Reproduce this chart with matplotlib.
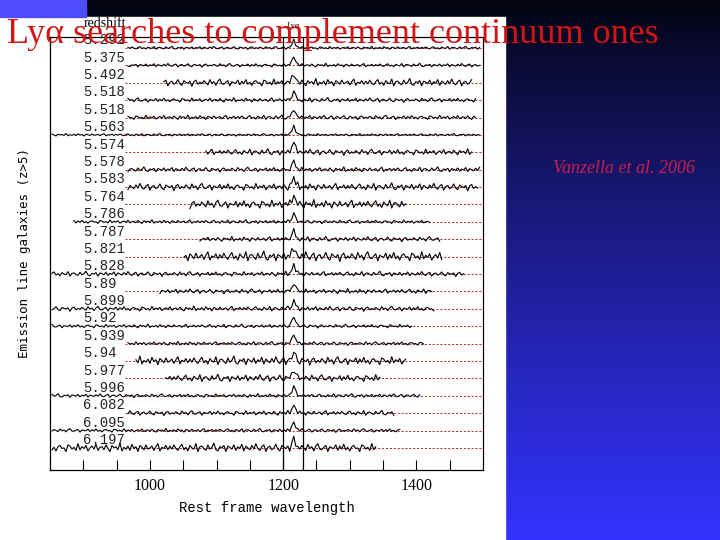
import numpy as np
import matplotlib
matplotlib.use("Agg")
from matplotlib import pyplot as plt
from matplotlib.patches import Rectangle

# redshift of each emission line galaxy (top to bottom)
z_labels = ["5.292", "5.375", "5.492", "5.518", "5.518", "5.563", "5.574", "5.578",
            "5.583", "5.764", "5.786", "5.787", "5.821", "5.828", "5.89", "5.899",
            "5.92", "5.939", "5.94", "5.977", "5.996", "6.082", "6.095", "6.197"]
# wavelength coverage of each spectrum (rest frame)
spec_start = [965, 965, 1019, 965, 965, 852, 1082, 965, 965, 1060, 886, 1075,
              1050, 852, 1015, 852, 852, 965, 977, 1022, 852, 965, 852, 852]
spec_end = [1497, 1497, 1484, 1490, 1490, 1497, 1483, 1497, 1494, 1385, 1420, 1435,
            1440, 1472, 1423, 1427, 1393, 1412, 1385, 1345, 1405, 1367, 1375, 1340]
noise_amp = [0.012, 0.015, 0.03, 0.018, 0.018, 0.01, 0.025, 0.02, 0.03, 0.035, 0.015, 0.02,
             0.04, 0.02, 0.02, 0.02, 0.015, 0.015, 0.035, 0.03, 0.015, 0.02, 0.015, 0.035]
peak_height = [0.45, 0.55, 0.5, 0.5, 0.5, 0.55, 0.6, 0.5, 0.55, 0.5, 0.5, 0.5,
               0.5, 0.55, 0.5, 0.5, 0.6, 0.55, 0.5, 0.55, 0.55, 0.5, 0.5, 0.5]
peak_shape = [0.1, 0.45, 1.0, 0.4, 0.1]   # around Lya 1216
# hand typed residual texture of the sky-subtracted spectra
noise = [3, -2, 5, -1, -4, 2, 6, -3, 1, -5, 4, 0, -2, 7, -6, 2, 3, -1, -4, 5, -2, 1, 8, -3,
         -5, 2, 0, 4, -6, 3, 1, -2, 5, -4, 2, -1, 6, -5, 3, 0, -3, 4, -2, 7, -1, -4, 2, 5,
         -6, 1, 3, -3, 0, 6, -2, -5, 4, 1, -1, 3, -7, 2, 5, -3, 1, -2, 4, 0, -4, 6, -1, 2,
         -5, 3, 7, -2, -3, 1, 4, -6, 2, 0, -1, 5, -4, 3, -2, 6, -3, 1, -5, 2, 4, -1, 0, -6,
         5, 3, -2, 1, -4, 7, -3, 2, -1, 4, -5, 0, 3, -2, 6, -4, 1, 2, -3, 5, -1, -6, 4, 0,
         2, -3, 8, -5, 1, -2, 3, -4, 6, -1, 2, -6, 4, 1, -3, 5, -2, 0, 3, -4, 2, 7, -5, 1,
         -1, 4, -3]
xticks_major = [1000, 1200, 1400]
xticks_minor = [900, 950, 1050, 1100, 1150, 1250, 1300, 1350, 1450]
lya_window = [1200, 1230]

W, H = 720, 540
fig = plt.figure(figsize=(7.2, 5.4), dpi=100)

# slide background: dark navy to blue gradient
bg = fig.add_axes([0, 0, 1, 1], zorder=-10)
t = np.linspace(0, 1, 256)[:, None] ** 0.85
top = np.array([3, 3, 14]) / 255
bot = np.array([51, 51, 255]) / 255
grad = top[None, None, :] * (1 - t[:, :, None]) + bot[None, None, :] * t[:, :, None]
bg.imshow(grad, aspect="auto", extent=[0, 1, 0, 1])
bg.add_patch(Rectangle((0, 0), 505 / W, 1 - 16.7 / H, color="white"))
bg.add_patch(Rectangle((0, 1 - 16.7 / H), 86 / W, 16.7 / H, color="#4d4dff"))
bg.set_xlim(0, 1)
bg.set_ylim(0, 1)
bg.axis("off")

ax = fig.add_axes([50 / W, 1 - 470 / H, 433 / W, 433 / H])
ax.set_facecolor("white")
nrow = len(z_labels)
for i in range(nrow):
    k0 = int(np.ceil((spec_start[i] - 1216) / 3))
    k1 = int(np.floor((spec_end[i] - 1216) / 3))
    k = np.arange(k0, k1 + 1)
    wl = 1216 + 3.0 * k
    idx = (i * 23 + np.arange(len(k))) % len(noise)
    flux = np.array(noise)[idx] * noise_amp[i]
    for j, p in enumerate(peak_shape):
        flux[k == j - 2] += p * peak_height[i]
    ax.plot([962, 1500], [i, i], color="#b02020", lw=0.7, ls=(0, (2, 2)))
    ax.plot(wl, i - flux, color="black", lw=0.8)
    ax.text(900, i - 0.04, z_labels[i], family="Liberation Mono", fontsize=10,
            ha="left", va="bottom", color="#222222")

for x in lya_window:
    ax.axvline(x, color="black", lw=0.9)

ax.set_xlim(850, 1500)
ax.set_ylim(24.27, -0.63)
ax.set_xticks(xticks_major)
ax.set_xticks(xticks_minor, minor=True)
ax.set_xticklabels([str(v) for v in xticks_major], family="Liberation Serif", fontsize=11.5)
ax.tick_params(axis="x", which="both", direction="in", length=7, width=0.8, pad=6)
ax.set_yticks([])
for s in ax.spines.values():
    s.set_linewidth(0.9)
ax.set_xlabel("Rest frame wavelength", family="Liberation Mono", fontsize=10, labelpad=5)
ax.set_ylabel("Emission line galaxies (z>5)", family="DejaVu Sans Mono", fontsize=9,
              labelpad=14)
ax.text(900, -1.05, "redshift", family="Liberation Serif", fontsize=10, va="bottom")
ax.text(1216, -1.05, "Ly\u03b1", family="Liberation Serif", fontsize=6, ha="center",
        va="bottom")

fig.text(7 / W, 1 - 43 / H, "Ly\u03b1 searches to complement continuum ones",
         family="Liberation Serif", fontsize=26, color="#d01515", va="baseline")
fig.text(553 / W, 1 - 173 / H, "Vanzella et al. 2006", family="Liberation Serif",
         style="italic", fontsize=13, color="#c8204a", va="baseline")

fig.savefig("out.png", dpi=100)
